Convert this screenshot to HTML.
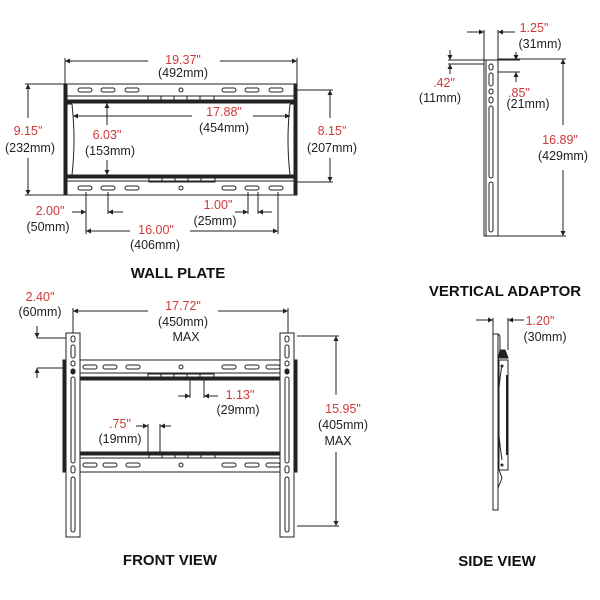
<!DOCTYPE html>
<html><head><meta charset="utf-8"><style>
html,body{margin:0;padding:0;background:#fff;}
svg{display:block}
text{font-family:"Liberation Sans",Arial,sans-serif;font-size:12.5px;fill:#222;text-anchor:middle}
.r{fill:#d03a3a}
.t{font-weight:bold;font-size:15px;fill:#111}
</style></head><body>
<svg width="600" height="600" viewBox="0 0 600 600" xmlns="http://www.w3.org/2000/svg">
<defs>
<marker id="a" viewBox="0 0 6 6" refX="6" refY="3" markerWidth="5" markerHeight="5" orient="auto-start-reverse"><path d="M0,0L6,3L0,6z" fill="#222"/></marker>
<g id="slot"><rect x="-7" y="-2" width="14" height="4" rx="2" fill="none" stroke="#222" stroke-width="1"/></g>
<g id="grp"><rect x="0" y="-2" width="66" height="4" fill="none" stroke="#222" stroke-width="1"/><path d="M13,-2v4M26,-2v4M39,-2v4M52,-2v4" stroke="#222"/></g>
</defs>
<g stroke="#222" fill="none" stroke-width="1">
<!-- WALL PLATE -->
<rect x="64" y="84" width="233" height="111"/>
<rect x="64" y="84" width="3" height="111" fill="#222"/>
<rect x="294" y="84" width="3" height="111" fill="#222"/>
<line x1="67" y1="96" x2="294" y2="96"/>
<rect x="67" y="100" width="227" height="3" fill="#222"/>
<rect x="67" y="175" width="227" height="3" fill="#222"/>
<line x1="67" y1="181" x2="294" y2="181"/>
<path d="M72,104 Q76,140 72,175 M290,104 Q286,140 290,175"/>
<path d="M67,104 H72 M67,175 H72 M290,104 H294 M290,175 H294"/>
<use href="#slot" x="85" y="90"/><use href="#slot" x="108" y="90"/><use href="#slot" x="132" y="90"/>
<use href="#slot" x="229" y="90"/><use href="#slot" x="252" y="90"/><use href="#slot" x="276" y="90"/>
<circle cx="181" cy="90" r="2"/>
<use href="#grp" x="148" y="98"/>
<use href="#slot" x="85" y="188"/><use href="#slot" x="108" y="188"/><use href="#slot" x="132" y="188"/>
<use href="#slot" x="229" y="188"/><use href="#slot" x="252" y="188"/><use href="#slot" x="276" y="188"/>
<circle cx="181" cy="188" r="2"/>
<use href="#grp" x="149" y="180"/>
<!-- dims -->
<line x1="65" y1="58" x2="65" y2="84"/><line x1="297" y1="58" x2="297" y2="84"/>
<line x1="65" y1="61" x2="148" y2="61" marker-start="url(#a)"/><line x1="220" y1="61" x2="297" y2="61" marker-end="url(#a)"/>
<line x1="25" y1="84" x2="64" y2="84"/><line x1="25" y1="195" x2="64" y2="195"/>
<line x1="28" y1="84" x2="28" y2="118" marker-start="url(#a)"/><line x1="28" y1="158" x2="28" y2="195" marker-end="url(#a)"/>
<line x1="297" y1="90" x2="333" y2="90"/><line x1="297" y1="182" x2="333" y2="182"/>
<line x1="330" y1="90" x2="330" y2="118" marker-start="url(#a)"/><line x1="330" y1="158" x2="330" y2="182" marker-end="url(#a)"/>
<line x1="73" y1="116" x2="192" y2="116" marker-start="url(#a)"/><line x1="253" y1="116" x2="290" y2="116" marker-end="url(#a)"/>
<line x1="107" y1="103" x2="107" y2="125" marker-start="url(#a)"/><line x1="107" y1="160" x2="107" y2="175" marker-end="url(#a)"/>
<line x1="86" y1="192" x2="86" y2="234"/><line x1="108" y1="192" x2="108" y2="214"/>
<line x1="72" y1="212" x2="86" y2="212" marker-end="url(#a)"/><line x1="123" y1="212" x2="108" y2="212" marker-end="url(#a)"/>
<line x1="86" y1="231" x2="130" y2="231" marker-start="url(#a)"/><line x1="190" y1="231" x2="278" y2="231" marker-end="url(#a)"/>
<line x1="248" y1="192" x2="248" y2="214"/><line x1="258" y1="192" x2="258" y2="214"/><line x1="278" y1="192" x2="278" y2="234"/>
<line x1="235" y1="212" x2="248" y2="212" marker-end="url(#a)"/><line x1="272" y1="212" x2="258" y2="212" marker-end="url(#a)"/>

<!-- FRONT VIEW -->
<rect x="66" y="333" width="14" height="204"/>
<rect x="280" y="333" width="14" height="204"/>
<rect x="63" y="360" width="3" height="112" fill="#222"/>
<rect x="294" y="360" width="3" height="112" fill="#222"/>
<line x1="80" y1="360" x2="280" y2="360"/><line x1="80" y1="373" x2="280" y2="373"/>
<rect x="80" y="377" width="200" height="3" fill="#222"/>
<rect x="80" y="452" width="200" height="3" fill="#222"/>
<line x1="80" y1="458" x2="280" y2="458"/><line x1="80" y1="472" x2="280" y2="472"/>
<use href="#slot" x="90" y="367"/><use href="#slot" x="110" y="367"/><use href="#slot" x="133" y="367"/>
<use href="#slot" x="229" y="367"/><use href="#slot" x="252" y="367"/><use href="#slot" x="273" y="367"/>
<circle cx="181" cy="367" r="2"/>
<use href="#grp" x="148" y="376"/>
<use href="#slot" x="90" y="465"/><use href="#slot" x="110" y="465"/><use href="#slot" x="133" y="465"/>
<use href="#slot" x="229" y="465"/><use href="#slot" x="252" y="465"/><use href="#slot" x="273" y="465"/>
<circle cx="181" cy="465" r="2"/>
<use href="#grp" x="149" y="456"/>
<g id="up">
<rect x="71" y="336" width="4" height="6" rx="2"/><rect x="71" y="345" width="4" height="13" rx="2"/>
<rect x="71" y="361" width="4" height="5" rx="2"/><rect x="71" y="369" width="4" height="5" rx="2" fill="#222"/>
<rect x="71" y="377" width="4" height="86" rx="2"/><rect x="71" y="466" width="4" height="7" rx="2"/>
<rect x="71" y="477" width="4" height="55" rx="2"/>
</g>
<use href="#up" x="214"/>
<line x1="73" y1="308" x2="73" y2="333"/><line x1="288" y1="308" x2="288" y2="333"/>
<line x1="73" y1="311" x2="148" y2="311" marker-start="url(#a)"/><line x1="218" y1="311" x2="288" y2="311" marker-end="url(#a)"/>
<line x1="37" y1="326" x2="37" y2="338" marker-end="url(#a)"/><line x1="37" y1="338" x2="66" y2="338"/>
<line x1="37" y1="378" x2="37" y2="368" marker-end="url(#a)"/><line x1="37" y1="368" x2="63" y2="368"/>
<line x1="297" y1="336" x2="339" y2="336"/><line x1="297" y1="526" x2="339" y2="526"/>
<line x1="336" y1="336" x2="336" y2="395" marker-start="url(#a)"/><line x1="336" y1="452" x2="336" y2="526" marker-end="url(#a)"/>
<line x1="190" y1="380" x2="190" y2="398"/><line x1="204" y1="380" x2="204" y2="398"/>
<line x1="178" y1="396" x2="190" y2="396" marker-end="url(#a)"/><line x1="218" y1="396" x2="204" y2="396" marker-end="url(#a)"/>
<line x1="148" y1="424" x2="148" y2="452"/><line x1="160" y1="424" x2="160" y2="452"/>
<line x1="136" y1="426" x2="148" y2="426" marker-end="url(#a)"/><line x1="171" y1="426" x2="160" y2="426" marker-end="url(#a)"/>

<!-- VERTICAL ADAPTOR -->
<rect x="484" y="60" width="14" height="176"/>
<line x1="486" y1="60" x2="486" y2="236"/>
<rect x="489" y="64" width="4" height="6" rx="2"/><rect x="489" y="73" width="4" height="13" rx="2"/>
<rect x="489" y="89" width="4" height="5" rx="2"/><rect x="489" y="97" width="4" height="6" rx="2"/>
<rect x="489" y="106" width="4" height="72" rx="2"/><rect x="489" y="182" width="4" height="50" rx="2"/>
<line x1="484" y1="30" x2="484" y2="60"/><line x1="498" y1="30" x2="498" y2="60"/>
<line x1="467" y1="32" x2="484" y2="32" marker-end="url(#a)"/><line x1="515" y1="32" x2="498" y2="32" marker-end="url(#a)"/>
<line x1="448" y1="60" x2="520" y2="60"/><line x1="448" y1="64" x2="484" y2="64"/>
<line x1="450" y1="50" x2="450" y2="60" marker-end="url(#a)"/><line x1="450" y1="74" x2="450" y2="64" marker-end="url(#a)"/>
<line x1="498" y1="72" x2="520" y2="72"/>
<line x1="516" y1="52" x2="516" y2="60" marker-end="url(#a)"/><line x1="516" y1="82" x2="516" y2="72" marker-end="url(#a)"/>
<line x1="498" y1="59" x2="566" y2="59"/><line x1="498" y1="236" x2="566" y2="236"/>
<line x1="563" y1="59" x2="563" y2="125" marker-start="url(#a)"/><line x1="563" y1="170" x2="563" y2="236" marker-end="url(#a)"/>

<!-- SIDE VIEW -->
<rect x="493" y="334" width="5" height="176"/>
<path d="M498,334 Q500,335 500,338 V352"/>
<path d="M498,360 L500,350 H505 L508,358 H498"  fill="#222"/>
<path d="M499,360 H508 V470 H499 Z"/>
<path d="M499,470 L502,478 L498,488"/>
<path d="M502,365 Q494,410 502,460"/>
<line x1="507" y1="375" x2="507" y2="455" stroke-width="2"/>
<circle cx="502" cy="366" r="1" fill="#222"/><circle cx="502" cy="465" r="1" fill="#222"/>
<line x1="493" y1="318" x2="493" y2="334"/><line x1="508" y1="318" x2="508" y2="350"/>
<line x1="476" y1="320" x2="493" y2="320" marker-end="url(#a)"/><line x1="524" y1="320" x2="508" y2="320" marker-end="url(#a)"/>
</g>

<!-- TEXT -->
<text class="r" x="183" y="64">19.37"</text><text x="183" y="77">(492mm)</text>
<text class="r" x="28" y="135">9.15"</text><text x="30" y="152">(232mm)</text>
<text class="r" x="332" y="135">8.15"</text><text x="332" y="152">(207mm)</text>
<text class="r" x="224" y="116">17.88"</text><text x="224" y="132">(454mm)</text>
<text class="r" x="107" y="139">6.03"</text><text x="110" y="155">(153mm)</text>
<text class="r" x="50" y="215">2.00"</text><text x="48" y="231">(50mm)</text>
<text class="r" x="218" y="209">1.00"</text><text x="215" y="225">(25mm)</text>
<text class="r" x="156" y="234">16.00"</text><text x="155" y="249">(406mm)</text>
<text class="t" x="178" y="278">WALL PLATE</text>

<text class="r" x="40" y="301">2.40"</text><text x="40" y="316">(60mm)</text>
<text class="r" x="183" y="310">17.72"</text><text x="183" y="326">(450mm)</text><text x="186" y="341">MAX</text>
<text class="r" x="240" y="399">1.13"</text><text x="238" y="414">(29mm)</text>
<text class="r" x="120" y="428">.75"</text><text x="120" y="443">(19mm)</text>
<text class="r" x="343" y="413">15.95"</text><text x="343" y="429">(405mm)</text><text x="338" y="445">MAX</text>
<text class="t" x="170" y="565">FRONT VIEW</text>

<text class="r" x="534" y="32">1.25"</text><text x="540" y="48">(31mm)</text>
<text class="r" x="444" y="87">.42"</text><text x="440" y="102">(11mm)</text>
<text class="r" x="519" y="97">.85"</text><text x="528" y="108">(21mm)</text>
<text class="r" x="560" y="144">16.89"</text><text x="563" y="160">(429mm)</text>
<text class="t" x="505" y="296">VERTICAL ADAPTOR</text>

<text class="r" x="540" y="325">1.20"</text><text x="545" y="341">(30mm)</text>
<text class="t" x="497" y="566">SIDE VIEW</text>
</svg>
</body></html>
